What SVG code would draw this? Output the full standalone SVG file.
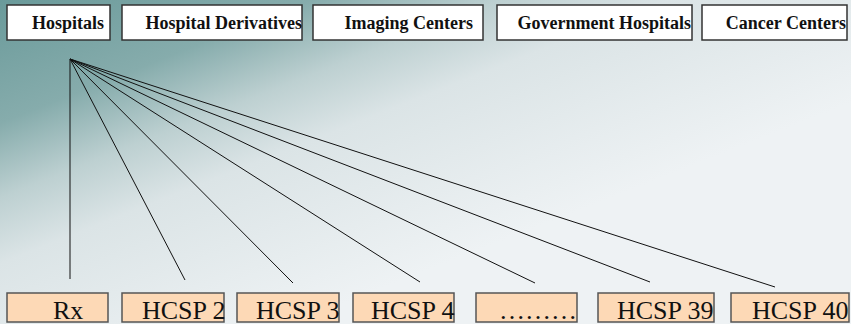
<svg xmlns="http://www.w3.org/2000/svg" width="851" height="324" viewBox="0 0 851 324">
<defs>
<linearGradient id="bg" gradientUnits="userSpaceOnUse" x1="0" y1="0" x2="150" y2="380">
<stop offset="0" stop-color="#6a9a9a"/>
<stop offset="0.28" stop-color="#86acac"/>
<stop offset="0.45" stop-color="#bdd0d1"/>
<stop offset="0.6" stop-color="#dbe4e6"/>
<stop offset="1" stop-color="#eef2f4"/>
</linearGradient>
</defs>
<style>
.top rect{fill:#ffffff;stroke:#333333;stroke-width:1.5}
.top text{font-family:"Liberation Serif",serif;font-weight:bold;font-size:18px;fill:#111;text-anchor:end}
.bot rect{fill:#fdd9b6;stroke:#555555;stroke-width:1.5}
.bot text{font-family:"Liberation Serif",serif;font-size:26px;fill:#111}
.conn line{stroke:#111;stroke-width:1}
</style>
<rect x="0" y="0" width="851" height="324" fill="url(#bg)"/>
<g id="n-hospitals" class="top"><rect x="7" y="5" width="103" height="35"/><text x="104" y="29">Hospitals</text></g>
<g id="n-derivatives" class="top"><rect x="122" y="5" width="180" height="35"/><text x="302" y="29">Hospital Derivatives</text></g>
<g id="n-imaging" class="top"><rect x="313" y="5" width="170" height="35"/><text x="473" y="29">Imaging Centers</text></g>
<g id="n-government" class="top"><rect x="497" y="5" width="195" height="35"/><text x="691" y="29">Government Hospitals</text></g>
<g id="n-cancer" class="top"><rect x="702" y="5" width="145" height="35"/><text x="846" y="29">Cancer Centers</text></g>
<g id="connectors" class="conn">
<line x1="70" y1="59" x2="70" y2="279"/>
<line x1="70" y1="59" x2="185" y2="280"/>
<line x1="70" y1="59" x2="293" y2="283"/>
<line x1="70" y1="59" x2="420" y2="282"/>
<line x1="70" y1="59" x2="535" y2="283"/>
<line x1="70" y1="59" x2="650" y2="282"/>
<line x1="70" y1="59" x2="775" y2="287"/>
</g>
<g id="n-rx" class="bot"><rect x="7" y="293" width="101" height="29"/><text x="53" y="319">Rx</text></g>
<g id="n-hcsp2" class="bot"><rect x="122" y="293" width="102" height="29"/><text x="142" y="319">HCSP 2</text></g>
<g id="n-hcsp3" class="bot"><rect x="237" y="293" width="102" height="29"/><text x="256" y="319">HCSP 3</text></g>
<g id="n-hcsp4" class="bot"><rect x="353" y="293" width="101" height="29"/><text x="371" y="319">HCSP 4</text></g>
<g id="n-dots" class="bot"><rect x="476" y="293" width="101" height="29"/><text x="499" y="319">………</text></g>
<g id="n-hcsp39" class="bot"><rect x="598" y="293" width="116" height="29"/><text x="617" y="319">HCSP 39</text></g>
<g id="n-hcsp40" class="bot"><rect x="731" y="293" width="118" height="29"/><text x="752" y="319">HCSP 40</text></g>
</svg>
